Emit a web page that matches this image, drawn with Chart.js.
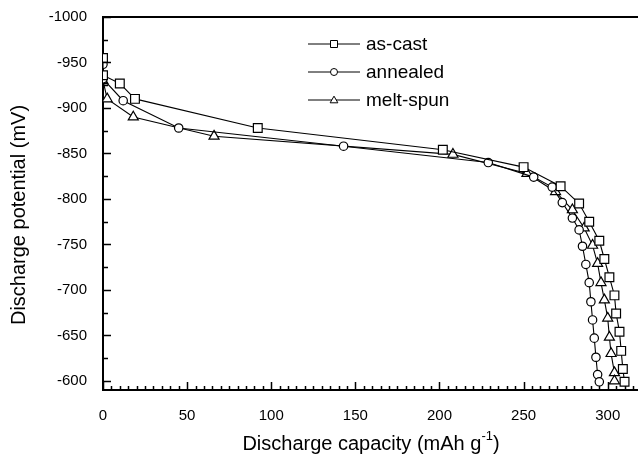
<!DOCTYPE html>
<html>
<head>
<meta charset="utf-8">
<script src="https://cdn.jsdelivr.net/npm/chart.js@4.4.1/dist/chart.umd.min.js"></script>
<style>
html, body {margin: 0; padding: 0; background: #fff;}
</style>
</head>
<body>
<canvas id="chartCurve" width="638" height="456"></canvas>
<script>
// values (capacity in mAh/g, potential in mV)
const asCastCapacity = [0, 0, 10, 19, 92, 202, 250, 272, 283, 289, 295, 298, 301, 304, 305, 307, 308, 309, 310];
const asCastPotential = [-955, -936, -927, -910, -878, -854, -835, -814, -795, -775, -754, -734, -714, -694, -674, -654, -633, -613, -599];
const annealedCapacity = [0, 0, 12, 45, 143, 229, 256, 267, 273, 279, 283, 285, 287, 289, 290, 291, 292, 293, 294, 295];
const annealedPotential = [-948, -932, -908, -878, -858, -840, -824, -813, -796, -779, -766, -748, -728, -708, -687, -667, -647, -626, -607, -599];
const meltSpunCapacity = [0, 2.5, 18, 66, 208, 252, 269, 279, 286, 291, 294, 296, 298, 300, 301, 302, 304, 304];
const meltSpunPotential = [-930, -910, -890, -869, -849, -828, -808, -788, -768, -749, -729, -708, -689, -669, -648, -630, -609, -600];
const seriesNames = ["as-cast", "annealed", "melt-spun"];
const xTicks = [0, 50, 100, 150, 200, 250, 300];
const yTicks = [-1000, -950, -900, -850, -800, -750, -700, -650, -600];

const FONT = "'Liberation Sans', Arial, sans-serif";

function toPoints(xs, ys) {
    return xs.map((x, i) => ({x: x, y: ys[i]}));
}

function drawMarker(ctx, style, x, y, r) {
    ctx.beginPath();
    if (style === "rect") {
        ctx.rect(x - r, y - r, 2 * r, 2 * r);
    } else if (style === "circle") {
        ctx.arc(x, y, r, 0, Math.PI * 2);
    } else {
        ctx.moveTo(x, y - r * 1.1);
        ctx.lineTo(x + r * 1.1, y + r * 0.8);
        ctx.lineTo(x - r * 1.1, y + r * 0.8);
        ctx.closePath();
    }
    ctx.fillStyle = "#fff";
    ctx.fill();
    ctx.stroke();
}

// ticks pointing into the plot, plus the top frame line
const innerTicks = {
    id: "innerTicks",
    afterDraw(chart) {
        const {ctx, chartArea, scales} = chart;
        ctx.save();
        ctx.strokeStyle = "#000";
        ctx.lineWidth = 1.5;
        ctx.beginPath();
        for (let v = scales.x.min; v <= scales.x.max; v += 5) {
            const px = Math.round(scales.x.getPixelForValue(v)) + 0.5;
            const len = v % 50 === 0 ? 8 : 4;
            ctx.moveTo(px, chartArea.bottom);
            ctx.lineTo(px, chartArea.bottom - len);
        }
        for (let v = -1000; v <= -600; v += 25) {
            const py = Math.round(scales.y.getPixelForValue(v)) + 0.5;
            const len = v % 50 === 0 ? 8 : 5;
            ctx.moveTo(chartArea.left, py);
            ctx.lineTo(chartArea.left + len, py);
        }
        ctx.stroke();
        ctx.lineWidth = 2;
        ctx.beginPath();
        ctx.moveTo(chartArea.left, chartArea.top);
        ctx.lineTo(chartArea.right, chartArea.top);
        ctx.stroke();
        ctx.restore();
    }
};

// legend inside the plot: line - marker - line, then name
const insideLegend = {
    id: "insideLegend",
    afterDraw(chart) {
        const ctx = chart.ctx;
        const rows = [44, 72, 100];
        ctx.save();
        ctx.strokeStyle = "#000";
        ctx.font = "19px " + FONT;
        ctx.textBaseline = "middle";
        chart.data.datasets.forEach(function (ds, i) {
            const y = rows[i];
            ctx.lineWidth = 1;
            ctx.beginPath();
            ctx.moveTo(308, y);
            ctx.lineTo(360, y);
            ctx.stroke();
            drawMarker(ctx, ds.pointStyle, 334, y, 3.5);
            ctx.fillStyle = "#000";
            ctx.fillText(ds.label, 366, y + 1);
        });
        ctx.restore();
    }
};

// axis titles (x title has a superscript)
const axisTitles = {
    id: "axisTitles",
    afterDraw(chart) {
        const {ctx, chartArea} = chart;
        ctx.save();
        ctx.fillStyle = "#000";
        ctx.font = "20px " + FONT;
        ctx.textBaseline = "alphabetic";
        const main = "Discharge capacity (mAh g";
        const sup = "-1";
        const tail = ")";
        const wMain = ctx.measureText(main).width;
        const wTail = ctx.measureText(tail).width;
        ctx.font = "13px " + FONT;
        const wSup = ctx.measureText(sup).width;
        const cx = 371;
        let x = cx - (wMain + wSup + wTail) / 2;
        ctx.font = "20px " + FONT;
        ctx.fillText(main, x, 450);
        x += wMain;
        ctx.font = "13px " + FONT;
        ctx.fillText(sup, x, 440);
        x += wSup;
        ctx.font = "20px " + FONT;
        ctx.fillText(tail, x, 450);

        ctx.translate(19, 215);
        ctx.rotate(-Math.PI / 2);
        ctx.textAlign = "center";
        ctx.textBaseline = "middle";
        ctx.fillText("Discharge potential (mV)", 0, 0);
        ctx.restore();
    }
};

const lineStyle = {
    showLine: true,
    borderColor: "#000",
    borderWidth: 1.1,
    pointBackgroundColor: "#fff",
    pointBorderColor: "#000",
    pointBorderWidth: 1.2,
    pointHoverRadius: 0
};

var ctxGraph = document.getElementById("chartCurve").getContext("2d");
var chartCurve = new Chart(ctxGraph, {
    type: "scatter",
    data: {
        datasets: [
            Object.assign({label: seriesNames[0], data: toPoints(asCastCapacity, asCastPotential), pointStyle: "rect", pointRadius: 6.2}, lineStyle),
            Object.assign({label: seriesNames[1], data: toPoints(annealedCapacity, annealedPotential), pointStyle: "circle", pointRadius: 4.2}, lineStyle),
            Object.assign({label: seriesNames[2], data: toPoints(meltSpunCapacity, meltSpunPotential), pointStyle: "triangle", pointRadius: 5.8}, lineStyle)
        ]
    },
    options: {
        responsive: false,
        animation: false,
        devicePixelRatio: 1,
        layout: {autoPadding: false, padding: {top: 15, left: 0, right: 0, bottom: 0}},
        plugins: {
            legend: {display: false},
            tooltip: {enabled: false}
        },
        scales: {
            x: {
                type: "linear",
                min: 0,
                max: 318,
                grid: {display: false},
                border: {display: true, color: "#000", width: 2},
                ticks: {
                    color: "#000",
                    padding: 9,
                    maxRotation: 0,
                    autoSkip: false,
                    font: {family: FONT, size: 15},
                    callback: (v) => String(v)
                },
                afterBuildTicks: (scale) => {
                    scale.ticks = xTicks.map(v => ({value: v}));
                },
                afterFit: (scale) => {
                    scale.height = 66;
                    scale.paddingLeft = 0;
                    scale.paddingRight = 0;
                }
            },
            y: {
                type: "linear",
                reverse: true,
                min: -1000,
                max: -590,
                grid: {display: false},
                border: {display: true, color: "#000", width: 2},
                ticks: {
                    color: "#000",
                    padding: 8,
                    autoSkip: false,
                    font: {family: FONT, size: 15},
                    callback: (v) => String(v)
                },
                afterBuildTicks: (scale) => {
                    scale.ticks = yTicks.map(v => ({value: v}));
                },
                afterFit: (scale) => { scale.width = 103; }
            }
        }
    },
    plugins: [innerTicks, insideLegend, axisTitles]
});
</script>
</body>
</html>
